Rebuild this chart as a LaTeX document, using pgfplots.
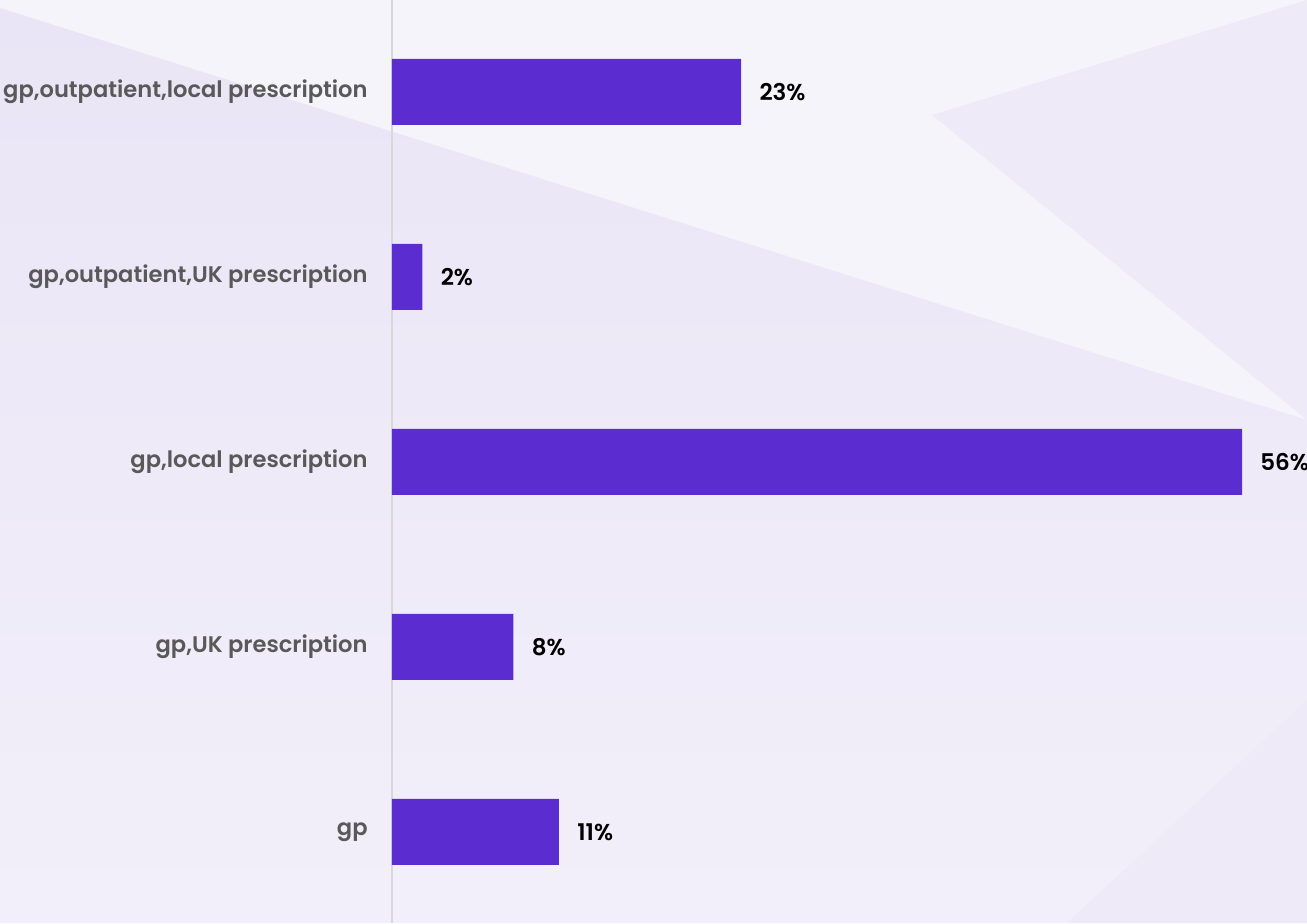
\documentclass[border=0pt]{standalone}
\usepackage{fontspec}
\setmainfont{Poppins}[BoldFont={* SemiBold}]
\usepackage{pgfplots}
\pgfplotsset{compat=1.18}
\definecolor{barc}{RGB}{91,45,208}
\definecolor{bgtop}{RGB}{234,229,246}
\definecolor{bgbot}{RGB}{242,239,250}
\definecolor{bglight}{RGB}{246,244,251}
\definecolor{bgwedge}{RGB}{238,234,248}
\definecolor{labelc}{RGB}{89,89,89}
\definecolor{axisc}{RGB}{216,216,220}

\begin{document}
\begin{tikzpicture}[x=0.5pt,y=0.5pt]
% background, 1 px = 0.5pt, origin at the axis (x=392 px, bottom)
\useasboundingbox (-392,0) rectangle (915,923);
\fill[bglight] (-392,0) rectangle (915,923);
\begin{scope}
  \clip (-392,915) -- (915,503) -- (915,0) -- (-392,0) -- cycle;
  \shade[top color=bgtop, bottom color=bgbot] (-392,0) rectangle (915,923);
\end{scope}
% faint wedges on the right
\fill[bgwedge] (915,923) -- (540,808) -- (915,503) -- cycle;
\fill[bgwedge] (915,223) -- (915,0) -- (675,0) -- cycle;
\begin{axis}[
    at={(0,0)}, anchor=south west,
    scale only axis, width=457.5pt, height=461.5pt,
    xbar, bar width=33pt,
    xmin=0, xmax=60.28, ymin=-0.493, ymax=4.497,
    axis x line=none, axis y line*=left,
    y axis line style={axisc, line width=0.6pt, -},
    ytick={0,1,2,3,4},
    yticklabels={gp, {gp,UK prescription}, {gp,local prescription},
      {gp,outpatient,UK prescription}, {gp,outpatient,local prescription}},
    major tick length=0pt,
    yticklabel style={font=\bfseries\fontsize{11.3}{13}\selectfont, text=labelc,
      inner sep=0pt, xshift=-12pt},
    point meta=x,
    /pgf/number format/assume math mode=true,
    nodes near coords={\pgfmathprintnumber{\pgfplotspointmeta}\%},
    nodes near coords style={font=\bfseries\fontsize{11.5}{13}\selectfont,
      black, inner sep=0pt, xshift=9pt},
    clip=false]
  \addplot[fill=barc, draw=none] coordinates {
    (11,0) (8,1) (56,2) (2,3) (23,4)};
\end{axis}
\end{tikzpicture}
\end{document}
